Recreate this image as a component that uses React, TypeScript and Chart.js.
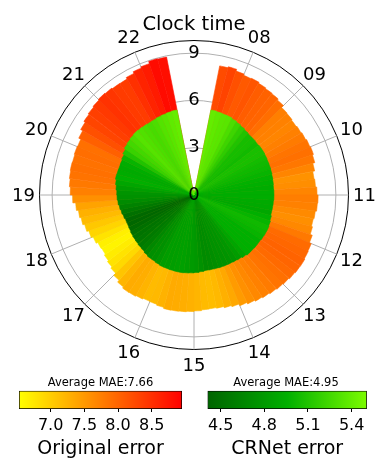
import { useEffect, useRef } from 'react';
import { Chart, registerables } from 'chart.js';

Chart.register(...registerables);
Chart.defaults.font.family = '"DejaVu Sans", sans-serif';
Chart.defaults.color = '#000';

// ---- clock layout (16 hours around the circle, 07/23 at top) ----
const BINS_PER_HOUR = 6;
const CLOCK_START_HOUR = 7;
const CLOCK_SPAN_HOURS = 16;
const DATA_START_HOUR = 7.5;
const hourLabels = ['08', '09', '10', '11', '12', '13', '14', '15', '16', '17', '18', '19', '20', '21', '22'];
const radialTicks = [0, 3, 6, 9];
const R_MAX = 9.8;

// ---- 10-minute bins from 07:30 to 22:30 ----
const originalError = [
  8.35, 8.42, 8.30, 8.22, 8.25, 8.18,
  8.13, 8.10, 8.02, 7.86, 7.84, 7.80,
  7.85, 7.90, 7.96, 8.00, 7.93, 7.80,
  7.68, 7.72, 7.80, 7.87, 7.84, 7.76,
  7.71, 7.78, 7.92, 8.05, 8.08, 8.12,
  8.10, 8.06, 8.00, 7.96, 7.90, 7.84,
  7.78, 7.70, 7.60, 7.48, 7.40, 7.32,
  7.28, 7.30, 7.35, 7.39, 7.42, 7.44,
  7.45, 7.38, 7.32, 7.30, 7.36, 7.42,
  7.44, 7.35, 7.20, 7.02, 6.92, 6.84,
  6.76, 6.80, 6.92, 7.05, 7.18, 7.30,
  7.39, 7.52, 7.70, 7.85, 7.92, 7.97,
  8.00, 7.98, 8.02, 8.00, 8.15, 8.30,
  8.40, 8.46, 8.52, 8.58, 8.55, 8.50,
  8.49, 8.60, 8.72, 8.80, 8.95, 8.92,
];
const crnetError = [
  5.50, 5.48, 5.46, 5.45, 5.40, 5.34,
  5.28, 5.22, 5.18, 5.18, 5.16, 5.19,
  5.19, 5.17, 5.15, 5.14, 5.12, 5.10,
  5.08, 5.06, 5.07, 5.07, 5.05, 5.04,
  5.03, 5.08, 5.12, 5.15, 5.14, 5.12,
  5.09, 5.09, 5.08, 5.08, 5.02, 4.96,
  4.92, 4.90, 4.89, 4.88, 4.86, 4.85,
  4.84, 4.88, 4.92, 4.94, 4.96, 4.98,
  4.98, 4.97, 4.96, 4.96, 4.92, 4.88,
  4.87, 4.82, 4.76, 4.73, 4.70, 4.68,
  4.66, 4.62, 4.60, 4.61, 4.66, 4.72,
  4.78, 4.84, 4.88, 4.90, 4.96, 5.02,
  5.08, 5.06, 5.05, 5.07, 5.12, 5.22,
  5.32, 5.36, 5.40, 5.44, 5.42, 5.40,
  5.38, 5.40, 5.43, 5.45, 5.48, 5.50,
];

// ---- colour bars ----
const originalRange = [6.53, 8.95];
const crnetRange = [4.41, 5.505];
// normalisation used when colouring the polar bars
const originalColorNorm = [6.66, 9.05];
const crnetColorNorm = [4.58, 5.6];
const originalBarTicks = [7.0, 7.5, 8.0, 8.5];
const crnetBarTicks = [4.5, 4.8, 5.1, 5.4];
const originalMAE = '7.66';
const crnetMAE = '4.95';
const originalStops: [number, number[]][] = [[0, [255, 255, 0]], [1, [255, 0, 0]]];
const crnetStops: [number, number[]][] = [[0, [0, 100, 0]], [0.5, [0, 176, 0]], [1, [124, 252, 0]]];

function colorAt(stops: [number, number[]][], t: number) {
  const tt = Math.max(0, Math.min(1, t));
  for (let i = 1; i < stops.length; i++) {
    const [o1, c1] = stops[i];
    const [o0, c0] = stops[i - 1];
    if (tt <= o1) {
      const f = (tt - o0) / (o1 - o0);
      const c = c0.map((v, k) => Math.round(v + (c1[k] - v) * f));
      return `rgb(${c[0]},${c[1]},${c[2]})`;
    }
  }
  const c = stops[stops.length - 1][1];
  return `rgb(${c[0]},${c[1]},${c[2]})`;
}

const TOTAL_BINS = BINS_PER_HOUR * CLOCK_SPAN_HOURS;
const OFFSET = Math.round((DATA_START_HOUR - CLOCK_START_HOUR) * BINS_PER_HOUR);

const labels: string[] = Array.from({ length: TOTAL_BINS }, (_, i) => {
  if (i % BINS_PER_HOUR !== 0) return '';
  const h = CLOCK_START_HOUR + i / BINS_PER_HOUR;
  const s = String(h).padStart(2, '0');
  return hourLabels.includes(s) ? s : '';
});

function fullSeries(vals: number[]) {
  const arr: (number | null)[] = Array(TOTAL_BINS).fill(null);
  vals.forEach((v, k) => { arr[OFFSET + k] = v; });
  return arr;
}
function seriesColors(vals: (number | null)[], range: number[], stops: [number, number[]][]) {
  return vals.map((v) => (v == null ? 'rgba(0,0,0,0)' : colorAt(stops, (v - range[0]) / (range[1] - range[0]))));
}

const FONT = '"DejaVu Sans"';

const hourLabelPlugin = {
  id: 'hourLabels',
  afterDraw(chart: any) {
    const s = chart.scales.r;
    const ctx = chart.ctx;
    ctx.save();
    ctx.font = `18px ${FONT}`;
    ctx.fillStyle = '#000';
    ctx.textAlign = 'center';
    ctx.textBaseline = 'middle';
    const dist = s.drawingArea + 16;
    (chart.data.labels as string[]).forEach((lab, i) => {
      if (!lab) return;
      const p = s.getPointPosition(i, dist);
      ctx.fillText(lab, p.x, p.y + 1);
    });
    // centre tick label (value 0) that the radial scale skips
    ctx.fillText(String(radialTicks[0]), s.xCenter, s.yCenter);
    ctx.restore();
  },
};

function PolarChart() {
  const ref = useRef<HTMLCanvasElement>(null);
  useEffect(() => {
    const crFull = fullSeries(crnetError);
    const orFull = fullSeries(originalError);
    const crCol = seriesColors(crFull, crnetColorNorm, crnetStops);
    const orCol = seriesColors(orFull, originalColorNorm, originalStops);
    const chart = new Chart(ref.current as HTMLCanvasElement, {
      type: 'polarArea',
      data: {
        labels,
        datasets: [
          { label: 'CRNet error', data: crFull as any, backgroundColor: crCol, borderColor: crCol, borderWidth: 0.6, angle: 360 / TOTAL_BINS, clip: false } as any,
          { label: 'Original error', data: orFull as any, backgroundColor: orCol, borderColor: orCol, borderWidth: 0.6, angle: 360 / TOTAL_BINS, clip: false } as any,
        ],
      },
      options: {
        responsive: false,
        animation: false,
        plugins: {
          legend: { display: false },
          tooltip: { enabled: false },
          title: {
            display: true,
            text: 'Clock time',
            font: { size: 19.5, weight: 'normal' },
            color: '#000',
            padding: { top: 13.5, bottom: 0 },
          },
        },
        scales: {
          r: {
            min: -0.001,
            max: R_MAX,
            startAngle: 0,
            z: 1,
            afterBuildTicks: (s: any) => {
              s.ticks = [...radialTicks, R_MAX].map((v) => ({ value: v }));
            },
            afterFit: (s: any) => {
              s.xCenter = 194;
              s.yCenter = 195;
              s.drawingArea = 154.5;
            },
            ticks: {
              display: true,
              showLabelBackdrop: false,
              backdropPadding: 0,
              font: { size: 18 },
              color: '#000',
              callback: (v: any) => (v !== 0 && radialTicks.includes(v) ? String(v) : ''),
            },
            grid: {
              circular: true,
              color: (c: any) => (c.tick && c.tick.value === R_MAX ? '#000' : '#b0b0b0'),
              lineWidth: (c: any) => (c.tick && c.tick.value <= 0 ? 0 : 1),
            },
            angleLines: {
              display: true,
              color: '#b0b0b0',
              lineWidth: (c: any) => (c.label ? 1 : 0),
            },
            pointLabels: { display: false },
          } as any,
        },
      },
      plugins: [hourLabelPlugin],
    });
    return () => chart.destroy();
  }, []);
  return <canvas ref={ref} width={388} height={375} style={{ position: 'absolute', left: 0, top: 0, width: 388, height: 375 }} />;
}

function ColorBar(props: { range: number[]; ticks: number[]; mae: string; title: string; stops: [number, number[]][]; left: number; width: number }) {
  const ref = useRef<HTMLCanvasElement>(null);
  const { range, ticks, mae, title, stops, left, width } = props;
  useEffect(() => {
    const chart = new Chart(ref.current as HTMLCanvasElement, {
      type: 'bar',
      data: {
        labels: [''],
        datasets: [
          {
            data: [[range[0], range[1]]] as any,
            backgroundColor: (c: any) => {
              const area = c.chart.chartArea;
              if (!area) return 'rgba(0,0,0,0)';
              const g = c.chart.ctx.createLinearGradient(area.left, 0, area.right, 0);
              stops.forEach(([o, col]) => g.addColorStop(o, `rgb(${col[0]},${col[1]},${col[2]})`));
              return g;
            },
            borderColor: '#000',
            borderWidth: 1,
            borderSkipped: false,
            barPercentage: 1,
            categoryPercentage: 1,
          } as any,
        ],
      },
      options: {
        indexAxis: 'y',
        responsive: false,
        animation: false,
        layout: { padding: 0 },
        plugins: {
          legend: { display: false },
          tooltip: { enabled: false },
          title: {
            display: true,
            text: `Average MAE:${mae}`,
            font: { size: 11.5, weight: 'normal' },
            color: '#000',
            padding: { top: 0, bottom: 1 },
          },
        },
        scales: {
          x: {
            type: 'linear',
            min: range[0],
            max: range[1],
            afterBuildTicks: (s: any) => {
              s.ticks = ticks.map((v) => ({ value: v }));
            },
            afterFit: (s: any) => {
              s.height = 51;
            },
            ticks: {
              font: { size: 16 },
              color: '#000',
              padding: 4,
              maxRotation: 0,
              autoSkip: false,
              callback: (v: any) => Number(v).toFixed(1),
            },
            grid: { display: true, drawOnChartArea: false, drawTicks: true, tickLength: 3, color: '#000', lineWidth: 1 },
            border: { display: false },
            title: { display: true, text: title, font: { size: 19 }, color: '#000', padding: { top: 0, bottom: 0 } },
          },
          y: { display: false },
        },
      } as any,
    });
    return () => chart.destroy();
  }, []);
  return <canvas ref={ref} width={width} height={84} style={{ position: 'absolute', left, top: 376, width, height: 84 }} />;
}

export default function App() {
  return (
    <div style={{ position: 'absolute', left: 0, top: 0, width: 388, height: 465, background: '#fff' }}>
      <PolarChart />
      <ColorBar range={originalRange} ticks={originalBarTicks} mae={originalMAE} title="Original error" stops={originalStops} left={19} width={163} />
      <ColorBar range={crnetRange} ticks={crnetBarTicks} mae={crnetMAE} title="CRNet error" stops={crnetStops} left={204} width={164} />
    </div>
  );
}
